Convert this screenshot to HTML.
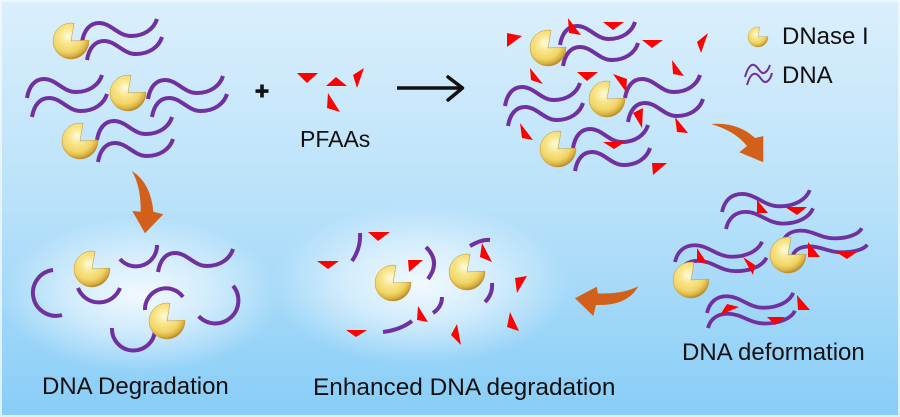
<!DOCTYPE html>
<html>
<head>
<meta charset="utf-8">
<style>
  html,body{margin:0;padding:0;background:#ffffff;}
  svg{display:block;}
  text{font-family:"Liberation Sans",Arial,sans-serif;fill:#111;}
</style>
</head>
<body>
<svg width="900" height="417" viewBox="0 0 900 417" xmlns="http://www.w3.org/2000/svg">
  <defs>
    <linearGradient id="bg" x1="0" y1="0" x2="0" y2="1">
      <stop offset="0" stop-color="#dbeffc"/>
      <stop offset="0.5" stop-color="#b8e1fa"/>
      <stop offset="1" stop-color="#88cdf7"/>
    </linearGradient>
    <radialGradient id="glow" cx="0.5" cy="0.5" r="0.5">
      <stop offset="0" stop-color="#ffffff" stop-opacity="0.85"/>
      <stop offset="0.5" stop-color="#ffffff" stop-opacity="0.5"/>
      <stop offset="1" stop-color="#ffffff" stop-opacity="0"/>
    </radialGradient>
    <radialGradient id="gold" cx="0.42" cy="0.36" r="0.64">
      <stop offset="0" stop-color="#fffbe0"/>
      <stop offset="0.35" stop-color="#f9e68c"/>
      <stop offset="0.7" stop-color="#f0d466"/>
      <stop offset="0.9" stop-color="#d8ae40"/>
      <stop offset="1" stop-color="#b88c2c"/>
    </radialGradient>
    <g id="pm">
      <path d="M0,0 L17.98,-0.9 A18,18 0 1 1 3.1,-17.7 Z" fill="url(#gold)" stroke="#c09632" stroke-width="0.5"/>
    </g>
    <g id="pms">
      <path d="M0,0 L9.99,-0.5 A10,10 0 1 1 1.7,-9.85 Z" fill="url(#gold)" stroke="#c09632" stroke-width="0.4"/>
    </g>
    <path id="st" d="M0,0 C2,-12 8,-19 17,-19 C29,-19 36,-6 49,-6 C62,-6 72,-13 75,-23" fill="none" stroke="#7030a0" stroke-width="4"/>
    <path id="stb" d="M0,0 C2,-12 8,-19 17,-19 C29,-19 36,-6 49,-6 C62,-6 72,-13 75,-23" fill="none" stroke="#7030a0" stroke-width="3.8" vector-effect="non-scaling-stroke"/>
  </defs>

  <!-- background -->
  <rect x="0" y="0" width="900" height="417" fill="url(#bg)"/>
  <ellipse cx="140" cy="295" rx="140" ry="78" fill="url(#glow)"/>
  <ellipse cx="420" cy="285" rx="150" ry="80" fill="url(#glow)"/>
  <rect x="1" y="1" width="898" height="415" fill="none" stroke="#f2f9fe" stroke-opacity="0.8" stroke-width="2"/>

  <!-- ===== Top-left cluster ===== -->
  <use href="#st" transform="translate(82,42)"/>
  <use href="#st" transform="translate(87,60)"/>
  <use href="#st" transform="translate(27,98)"/>
  <use href="#st" transform="translate(32,117)"/>
  <use href="#st" transform="translate(148,99)"/>
  <use href="#st" transform="translate(152,117)"/>
  <use href="#st" transform="translate(97,140)"/>
  <use href="#st" transform="translate(98,162)"/>
  <use href="#pm" transform="translate(71,41)"/>
  <use href="#pm" transform="translate(128,93)"/>
  <use href="#pm" transform="translate(80,141)"/>

  <!-- plus -->
  <rect x="255.5" y="89.3" width="13" height="3.6" fill="#111"/>
  <rect x="260.2" y="84.5" width="3.6" height="13" fill="#111"/>

  <!-- PFAAs -->
  <g fill="#ff0000">
    <polygon points="297,73 318,73 307,83"/>
    <polygon points="326,86 347,86 336,77"/>
    <polygon points="353,75 364,68 357,88"/>
    <polygon points="328,93 327,108 340,112"/>
  </g>
  <text x="300" y="147" font-size="23">PFAAs</text>

  <!-- reaction arrow -->
  <line x1="397" y1="88" x2="461" y2="88" stroke="#111" stroke-width="3.5"/>
  <polyline points="448,77 462.5,88 448,100" fill="none" stroke="#111" stroke-width="3.5" stroke-linecap="round" stroke-linejoin="round"/>

  <!-- ===== Top-right cluster ===== -->
  <use href="#st" transform="translate(560,45)"/>
  <use href="#st" transform="translate(563,66)"/>
  <use href="#st" transform="translate(505,106)"/>
  <use href="#st" transform="translate(508,126)"/>
  <use href="#st" transform="translate(625,98)"/>
  <use href="#st" transform="translate(628,122)"/>
  <use href="#st" transform="translate(573,148)"/>
  <use href="#st" transform="translate(575,171)"/>
  <use href="#pm" transform="translate(548,48)"/>
  <use href="#pm" transform="translate(607,99)"/>
  <use href="#pm" transform="translate(558,149)"/>
  <g fill="#ff0000">
    <polygon points="507,33 522,36 507,47"/>
    <polygon points="568,18 581,35 569,33"/>
    <polygon points="603,22 624,22 613,30"/>
    <polygon points="642,40 663,40 652,48"/>
    <polygon points="697,42 708,33 701,53"/>
    <polygon points="530,68 543,84 531,80"/>
    <polygon points="577,72 598,72 587,81"/>
    <polygon points="613,74 627,79 626,92"/>
    <polygon points="672,60 684,76 673,74"/>
    <polygon points="633,113 643,108 642,128"/>
    <polygon points="675,117 688,133 677,132"/>
    <polygon points="520,123 533,140 522,138"/>
    <polygon points="603,142 625,142 614,149"/>
    <polygon points="652,163 667,163 653,175"/>
  </g>

  <!-- legend -->
  <use href="#pms" transform="translate(758,37)"/>
  <path d="M745,77 C748,66 752,64 754,65 C758,66 760,74 764,73 C767,72 769,68 770,65" fill="none" stroke="#7030a0" stroke-width="2"/>
  <path d="M747,85 C750,75 753,73 756,74 C760,75 762,83 766,82 C769,81 771,77 772,73" fill="none" stroke="#7030a0" stroke-width="2"/>
  <text x="782" y="44" font-size="24">DNase I</text>
  <text x="782" y="83" font-size="24">DNA</text>

  <!-- orange arrows -->
  <g fill="#d2601a">
    <path d="M711,124 Q738,122 755,138 L763.3,136 L763.3,162.3 L739.3,152.3 L747,146 Q735,131 711,124 Z"/>
    <path d="M131.7,170.7 Q151,183 153.3,211.7 L163.3,214.3 L145,233.3 L132.3,211 L140.7,211.7 Q141,186 131.7,170.7 Z"/>
    <path d="M638.3,286 Q625,294 598,293.5 L596.7,286.7 L575,298.3 L593.3,316 L596,305 Q628,306 638.3,286 Z"/>
  </g>

  <!-- ===== Bottom-right cluster (deformation) ===== -->
  <use href="#stb" transform="translate(722,212) scale(1.17,0.95)"/>
  <use href="#stb" transform="translate(726,229) scale(1.16,0.9)"/>
  <use href="#stb" transform="translate(675,262) scale(1.16,0.88)"/>
  <use href="#stb" transform="translate(678,276) scale(1.18,0.8)"/>
  <use href="#stb" transform="translate(783,242) scale(1.05,0.6)"/>
  <use href="#stb" transform="translate(793,255) scale(0.99,0.45)"/>
  <use href="#stb" transform="translate(707,313) scale(1.15,0.88)"/>
  <use href="#stb" transform="translate(708,328) scale(1.16,0.75)"/>
  <use href="#pm" transform="translate(691,280)"/>
  <use href="#pm" transform="translate(788,255)"/>
  <g fill="#ff0000">
    <polygon points="757,200 768,213 757,213"/>
    <polygon points="785,207 807,207 797,215"/>
    <polygon points="697,248 707,263 697,262"/>
    <polygon points="743,257 755,265 753,275"/>
    <polygon points="808,242 820,257 808,257"/>
    <polygon points="836,252 857,252 847,259"/>
    <polygon points="720,315 727,304 739,307"/>
    <polygon points="767,317 785,317 775,325"/>
    <polygon points="797,295 810,310 798,310"/>
  </g>
  <text x="682" y="360" font-size="24">DNA deformation</text>

  <!-- ===== Bottom-left cluster (degradation) ===== -->
  <g fill="none" stroke="#7030a0" stroke-width="4">
    <path d="M53,270 A23,23 0 1 0 62,315"/>
    <path d="M120,259 A21,21 0 0 0 157,245"/>
    <path d="M78,288 A22.5,22.5 0 0 0 120,288"/>
    <path d="M145,310 A21,21 0 0 1 183,297"/>
    <path d="M112,328 A21,21 0 0 0 155,330"/>
    <path d="M233.1,285.8 A23,23 0 0 1 198.7,316.3"/>
  </g>
  <use href="#st" transform="translate(158,272)"/>
  <use href="#pm" transform="translate(92,269)"/>
  <use href="#pm" transform="translate(167,321)"/>
  <text x="42" y="394" font-size="24">DNA Degradation</text>

  <!-- ===== Bottom-middle cluster (enhanced) ===== -->
  <g fill="none" stroke="#7030a0" stroke-width="4">
    <path d="M360,233 Q361,248 352,261"/>
    <path d="M426,247 Q441,262 428,279"/>
    <path d="M470,246 Q482,239 490,240"/>
    <path d="M492,283 Q493,294 485,302"/>
    <path d="M442,297 Q442,307 433,313"/>
    <path d="M383,332 Q400,330 412,321"/>
  </g>
  <use href="#pm" transform="translate(393,283)"/>
  <use href="#pm" transform="translate(467,272)"/>
  <g fill="#ff0000">
    <polygon points="317,261 339,261 328,269"/>
    <polygon points="368,232 390,232 378,241"/>
    <polygon points="408,260 423,260 409,272"/>
    <polygon points="482,243 492,262 480,257"/>
    <polygon points="515,278 527,276 517,293"/>
    <polygon points="418,306 428,322 417,320"/>
    <polygon points="346,330 367,330 356,337"/>
    <polygon points="457,324 461,345 451,335"/>
    <polygon points="510,312 519,331 507,327"/>
  </g>
  <text x="313" y="395" font-size="24.4">Enhanced DNA degradation</text>
</svg>
</body>
</html>
